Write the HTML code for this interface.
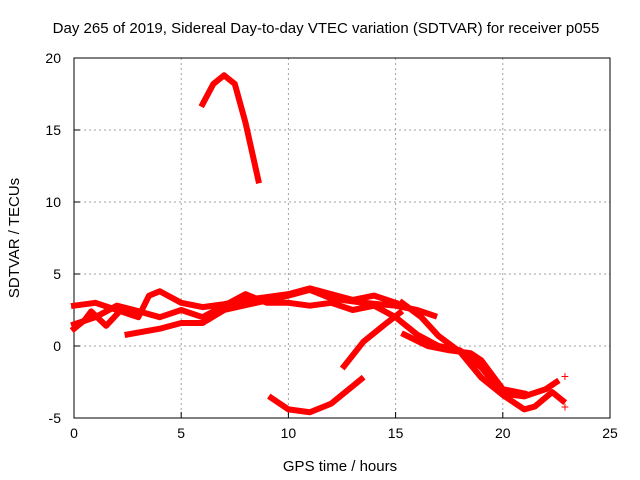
<!DOCTYPE html>
<html><head><meta charset="utf-8"><style>
body{margin:0;background:#fff}
svg{display:block;font-family:"Liberation Sans",sans-serif}
</style></head><body>
<svg id="c" width="640" height="480"></svg>
<script>
const xTicks=[0,5,10,15,20,25];
const yTicks=[-5,0,5,10,15,20];
const traceA=[[6.0,16.8],[6.5,18.2],[7.0,18.8],[7.5,18.2],[8.0,15.5],[8.6,11.5]];
const traceB=[[9.2,-3.6],[10,-4.4],[11,-4.6],[12,-4.0],[13.4,-2.3]];
const traceC=[[12.6,-1.4],[13.5,0.3],[14.5,1.5],[15.2,2.3]];
const traceD=[[2.5,0.8],[4,1.2],[5,1.6],[6,1.6],[7,2.5],[8.5,3.0],[10,3.5],[11,3.9],[12,3.3],[13.5,3.0],[15,2.8],[16,2.5],[16.8,2.1]];
const traceE=[[0,2.8],[1,3.0],[2,2.5],[3,2.0],[3.5,3.5],[4,3.8],[5,3.0],[6,2.7],[7,2.9],[8,3.2],[9,3.4],[10,3.6],[11,4.0],[12,3.6],[13,3.2],[14,3.5],[15,3.0]];
const traceF=[[0,1.5],[1,2.0],[2,2.8],[2.8,2.5],[4,2.0],[5,2.5],[6,2.0],[7,2.8],[8,3.6],[9,3.0],[10,3.0],[11,2.8],[12,3.0],[13,2.5],[14,2.8],[15,2.0],[16,0.8],[17,0.0],[18,-0.3],[19,-1.5],[20,-3.3],[21,-3.5],[22,-3.0],[22.5,-2.5]];
const traceG=[[15.3,3.0],[16.2,2.0],[17,0.7],[18,-0.4],[19,-2.2],[20,-3.4],[21,-4.4],[21.5,-4.2],[22.3,-3.2],[22.8,-3.8]];
const traceH=[[15.4,0.8],[16.5,0.0],[17.5,-0.3],[18.5,-0.5],[19,-1.0],[20,-3.0],[21,-3.3]];
const traceI=[[0,1.2],[0.5,1.8],[0.8,2.4],[1.5,1.4],[2,2.2]];
const extra=[[22.9,-2.1],[22.9,-4.2]];
const traces=[traceA,traceB,traceC,traceD,traceE,traceF,traceG,traceH,traceI];

const L=74,R=610,T=58,B=418,x0=0,x1=25,y0=-5,y1=20;
const sx=v=>L+(v-x0)/(x1-x0)*(R-L);
const sy=v=>B-(v-y0)/(y1-y0)*(B-T);
const svg=document.getElementById('c');
const NS='http://www.w3.org/2000/svg';
function mk(tag,attrs,parent){const e=document.createElementNS(NS,tag);for(const k in attrs)e.setAttribute(k,attrs[k]);(parent||svg).appendChild(e);return e;}

xTicks.forEach((t,i)=>{
  if(i>0&&i<xTicks.length-1){const g=mk('line',{x1:sx(t),x2:sx(t),y1:T,y2:B,stroke:'#a0a0a0','stroke-dasharray':'2,3'});
  
  }
  const tk=mk('line',{x1:sx(t),x2:sx(t),y1:B,y2:B-6,stroke:'#000'});
  
  
  const tx=mk('text',{x:sx(t),y:B+20,'text-anchor':'middle','font-size':14});
  tx.textContent=t;
  
  
});
yTicks.forEach((t,i)=>{
  if(i>0&&i<yTicks.length-1){const g=mk('line',{x1:L,x2:R,y1:sy(t),y2:sy(t),stroke:'#a0a0a0','stroke-dasharray':'2,3'});
  
  }
  const tk=mk('line',{x1:L,x2:L+6,y1:sy(t),y2:sy(t),stroke:'#000'});
  
  
  const tx=mk('text',{x:L-13,y:sy(t)+5,'text-anchor':'end','font-size':14});
  tx.textContent=t;
  
  
});
const fr=mk('rect',{x:L,y:T,width:R-L,height:B-T,fill:'none',stroke:'#000'});



traces.forEach(tr=>{
  const p=mk('polyline',{points:tr.map(d=>sx(d[0])+','+sy(d[1])).join(' '),fill:'none',stroke:'#f00','stroke-width':6,'stroke-linejoin':'round','stroke-linecap':'square'});
  
  
});
extra.forEach(d=>{
  const t=mk('text',{x:sx(d[0]),y:sy(d[1])+5,'text-anchor':'middle','font-size':14,fill:'#f00'});
  t.textContent='+';
  
  
});
const title=mk('text',{x:326,y:33,'text-anchor':'middle','font-size':15});
title.textContent='Day 265 of 2019, Sidereal Day-to-day VTEC variation (SDTVAR) for receiver p055';


const xl=mk('text',{x:340,y:471,'text-anchor':'middle','font-size':15});
xl.textContent='GPS time / hours';


const yl=mk('text',{x:0,y:0,'text-anchor':'middle','font-size':15,transform:'translate(19,238) rotate(-90)'});
yl.textContent='SDTVAR / TECUs';


</script>
</body></html>
